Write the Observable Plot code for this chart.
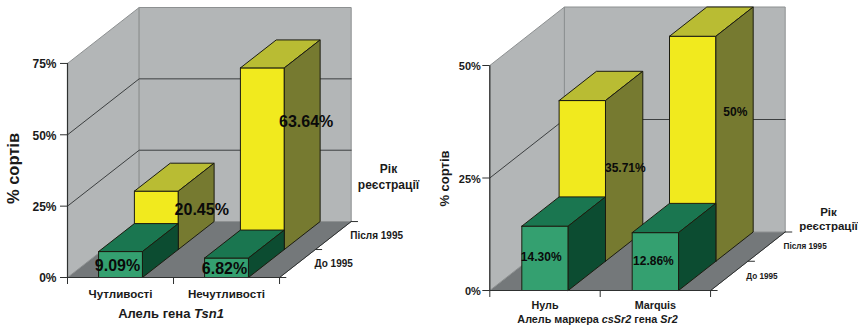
<!DOCTYPE html>
<html lang="uk">
<head>
<meta charset="utf-8">
<script src="https://cdn.jsdelivr.net/npm/d3@7"></script>
<script src="https://cdn.jsdelivr.net/npm/@observablehq/plot@0.6"></script>
<style>
  html, body { margin: 0; padding: 0; background: #fff; }
  #charts { display: flex; width: 858px; height: 325px; overflow: hidden; }
  #charts svg { flex: none; display: block; }
</style>
</head>
<body>
<div id="charts"></div>
<script>
// Share of cultivars per allele, split by registration period
const tsnCategories = ["Чутливості", "Нечутливості"];
const tsnBefore1995 = [9.09, 6.82];
const tsnAfter1995 = [20.45, 63.64];
const tsnBeforeLabels = ["9.09%", "6.82%"];
const tsnAfterLabels = ["20.45%", "63.64%"];
const tsnTicks = [0, 25, 50, 75];

const srCategories = ["Нуль", "Marquis"];
const srBefore1995 = [14.3, 12.86];
const srAfter1995 = [35.71, 50];
const srBeforeLabels = ["14.30%", "12.86%"];
const srAfterLabels = ["35.71%", "50%"];
const srTicks = [0, 25, 50];

const periods = ["До 1995", "Після 1995"];
const legendTitle = ["Рік", "реєстрації"];

const palette = {
  wall: "#b3b6b7", floor: "#74787a", grid: "#3c3f40", axis: "#2e3030", wallEdge: "#8d9091",
  edge: "#1c1c10",
  yellow: {front: "#f1ea1e", top: "#b9bc33", side: "#767a30"},
  green: {front: "#34a070", top: "#1a7650", side: "#0c4c31"}
};

function drawChart(cfg) {
  const nCat = cfg.categories.length, nDepth = periods.length;
  const maxV = cfg.ticks[cfg.ticks.length - 1];
  // Oblique projection: one depth slot moves a point right and up in data units
  const px = (x, d) => x + d * cfg.shiftX;
  const py = (v, d) => v + d * cfg.shiftY;
  const pt = (id, x, d, v) => ({id, x: px(x, d), y: py(v, d)});
  const poly = (id, corners) => [...corners, corners[0]].map(c => pt(id, c[0], c[1], c[2]));

  const marginRight = cfg.width - cfg.backRight;
  const xDomain = [0, px(nCat, nDepth)];
  const yDomain = [0, py(maxV, nDepth)];

  // Faces of one bar occupying a depth slot
  const barFaces = (i, d, v, key) => {
    const a = i + cfg.inset, b = i + 1 - cfg.inset, e = d + 1;
    return {
      front: poly(`${key}f${i}`, [[a, d, 0], [b, d, 0], [b, d, v], [a, d, v]]),
      top: poly(`${key}t${i}`, [[a, d, v], [b, d, v], [b, e, v], [a, e, v]]),
      side: poly(`${key}s${i}`, [[b, d, 0], [b, e, 0], [b, e, v], [b, d, v]])
    };
  };
  const barMarks = (values, d, colors, key) => {
    const faces = values.map((v, i) => barFaces(i, d, v, key));
    return ["front", "top", "side"].map(face => Plot.line(faces.flatMap(f => f[face]), {
      x: "x", y: "y", z: "id", fill: colors[face], stroke: palette.edge, strokeWidth: 1, curve: "linear"
    }));
  };

  const floor = poly("floor", [[0, 0, 0], [nCat, 0, 0], [nCat, nDepth, 0], [0, nDepth, 0]]);
  const walls = [
    ...poly("left", [[0, 0, 0], [0, nDepth, 0], [0, nDepth, maxV], [0, 0, maxV]]),
    ...poly("back", [[0, nDepth, 0], [nCat, nDepth, 0], [nCat, nDepth, maxV], [0, nDepth, maxV]])
  ];
  const grid = cfg.ticks.slice(1, -1).flatMap(v => [
    pt(`g${v}`, 0, 0, v), pt(`g${v}`, 0, nDepth, v), pt(`g${v}`, nCat, nDepth, v)
  ]);
  // Depth axis: short horizontal ticks leaving the right floor edge
  const depthTicks = d3.range(nDepth + 1).flatMap(d => [
    pt(`d${d}`, nCat, d, 0), pt(`d${d}`, nCat + cfg.depthTick, d, 0)
  ]);
  const floorEdge = [pt("fe", nCat, 0, 0), pt("fe", nCat, nDepth, 0)];
  const frontAxis = [pt("ax", 0, 0, maxV), pt("ax", 0, 0, 0), pt("ax", nCat, 0, 0)];

  const valueLabels = (labels, values, d, nudges) => labels.map((text, i) =>
    Plot.text([text], {
      x: [px(i + 0.5, d)], y: [py(values[i] / 2, d)], text: [text],
      dx: nudges[i][0], dy: nudges[i][1], fontSize: cfg.valueSize, fontWeight: "bold",
      fill: "#0a0a0a", textAnchor: "middle", lineAnchor: "middle"
    }));

  const plot = Plot.plot({
    width: cfg.width, height: 325,
    marginLeft: cfg.left, marginRight, marginTop: cfg.top, marginBottom: 325 - cfg.bottom,
    style: {fontFamily: "'Liberation Sans', Arial, sans-serif", fontWeight: "bold", color: "#1a1a1a",
      overflow: "visible", background: "transparent"},
    x: {domain: xDomain},
    y: {domain: yDomain},
    marks: [
      Plot.line(floor, {x: "x", y: "y", z: "id", fill: palette.floor, stroke: palette.floor, strokeWidth: 1, curve: "linear"}),
      Plot.line(walls, {x: "x", y: "y", z: "id", fill: palette.wall, stroke: palette.wallEdge, strokeWidth: 1, curve: "linear"}),
      Plot.line(grid, {x: "x", y: "y", z: "id", stroke: palette.grid, strokeWidth: 1, curve: "linear"}),
      Plot.line(floorEdge, {x: "x", y: "y", z: "id", stroke: palette.axis, strokeWidth: 1, curve: "linear"}),
      Plot.line(depthTicks, {x: "x", y: "y", z: "id", stroke: palette.axis, strokeWidth: 1, curve: "linear"}),
      ...barMarks(cfg.after, 1, palette.yellow, "a"),
      ...barMarks(cfg.before, 0, palette.green, "b"),
      Plot.line(frontAxis, {x: "x", y: "y", z: "id", stroke: palette.axis, strokeWidth: 1.2, curve: "linear"}),
      Plot.axisY({ticks: cfg.ticks, tickFormat: () => "", tickSize: 7, stroke: palette.axis, label: null}),
      Plot.axisY({ticks: cfg.ticks, tickFormat: d => `${d}%`, tickSize: 0, tickPadding: cfg.tickPadding, dy: 1,
        fontSize: cfg.tickSize, label: null}),
      Plot.axisX({ticks: d3.range(nCat + 1), tickFormat: () => "", tickSize: 7, stroke: palette.axis, label: null}),
      Plot.axisX({ticks: cfg.categories.map((c, i) => i + 0.5), tickFormat: v => cfg.categories[Math.floor(v)],
        tickSize: 0, tickPadding: cfg.catPadding, fontSize: cfg.catSize, label: null}),
      ...periods.map((p, d) => Plot.text([p], {
        x: [px(nCat, d + 0.5)], y: [py(0, d + 0.5)], text: [p], dx: 17, fontSize: cfg.depthSize,
        fontWeight: "bold", textAnchor: "start", lineAnchor: "middle"
      })),
      ...legendTitle.map((t, i) => Plot.text([t], {
        frameAnchor: "top-left", text: [t], dx: cfg.legendX - cfg.left, dy: cfg.legendY[i] - cfg.top,
        fontSize: cfg.legendSize, fontWeight: "bold", textAnchor: "middle", lineAnchor: "middle"
      })),
      Plot.text([cfg.yTitle], {
        frameAnchor: "top-left", text: [cfg.yTitle], dx: cfg.yTitleX - cfg.left, dy: cfg.yTitleY - cfg.top,
        rotate: -90, fontSize: cfg.yTitleSize, fontWeight: "bold", textAnchor: "middle", lineAnchor: "middle"
      }),
      Plot.text([cfg.xTitle], {
        frameAnchor: "top-left", text: [cfg.xTitle], dx: cfg.xTitleX - cfg.left, dy: cfg.xTitleY - cfg.top,
        fontSize: cfg.xTitleSize, fontWeight: "bold", textAnchor: "middle", lineAnchor: "middle"
      }),
      ...valueLabels(cfg.beforeLabels, cfg.before, 0, cfg.beforeNudge),
      ...valueLabels(cfg.afterLabels, cfg.after, 1, cfg.afterNudge)
    ]
  });

  // Gene names in the x title are set in italics
  d3.select(plot).selectAll("text")
    .filter(function () { return this.textContent === cfg.xTitle; })
    .each(function () {
      const node = d3.select(this).text("");
      cfg.xTitle.split(/(csSr2|Sr2|Tsn1)/).filter(Boolean).forEach(run => {
        node.append("tspan").attr("font-style", /^(csSr2|Sr2|Tsn1)$/.test(run) ? "italic" : "normal")
          .attr("xml:space", "preserve").text(run);
      });
      node.style("white-space", "pre");
    });
  return plot;
}

const root = document.getElementById("charts");
root.append(drawChart({
  categories: tsnCategories, before: tsnBefore1995, after: tsnAfter1995,
  beforeLabels: tsnBeforeLabels, afterLabels: tsnAfterLabels, ticks: tsnTicks,
  yTitle: "% сортів", xTitle: "Алель гена Tsn1",
  width: 429, left: 67, bottom: 277, top: 7, backRight: 350.7,
  shiftX: 0.338, shiftY: 9.8, inset: 0.293, depthTick: 0.06,
  tickSize: 12, tickPadding: 11, catSize: 11.6, catPadding: 12, depthSize: 10, valueSize: 16,
  legendX: 388, legendY: [168.5, 185], legendSize: 12,
  yTitleX: 13, yTitleY: 168, yTitleSize: 16.5,
  xTitleX: 170.5, xTitleY: 313, xTitleSize: 13,
  beforeNudge: [[-3, 1], [-2, 1.5]], afterNudge: [[45.4, -10.8], [43.8, -36.5]]
}));
root.append(drawChart({
  categories: srCategories, before: srBefore1995, after: srAfter1995,
  beforeLabels: srBeforeLabels, afterLabels: srAfterLabels, ticks: srTicks,
  yTitle: "% сортів", xTitle: "Алель маркера csSr2 гена Sr2",
  width: 429, left: 60.3, bottom: 290, top: 6.5, backRight: 355.7,
  shiftX: 0.338, shiftY: 6.5, inset: 0.29, depthTick: 0.06,
  tickSize: 11, tickPadding: 9, catSize: 10.8, catPadding: 11, depthSize: 8.2, valueSize: 12,
  legendX: 399, legendY: [212, 226], legendSize: 11.5,
  yTitleX: 15, yTitleY: 178, yTitleSize: 13,
  xTitleX: 168, xTitleY: 319, xTitleSize: 10.8,
  beforeNudge: [[-3.8, -0.8], [-2, 0]], afterNudge: [[43, -12.8], [42.6, -36.6]]
}));
</script>
</body>
</html>
